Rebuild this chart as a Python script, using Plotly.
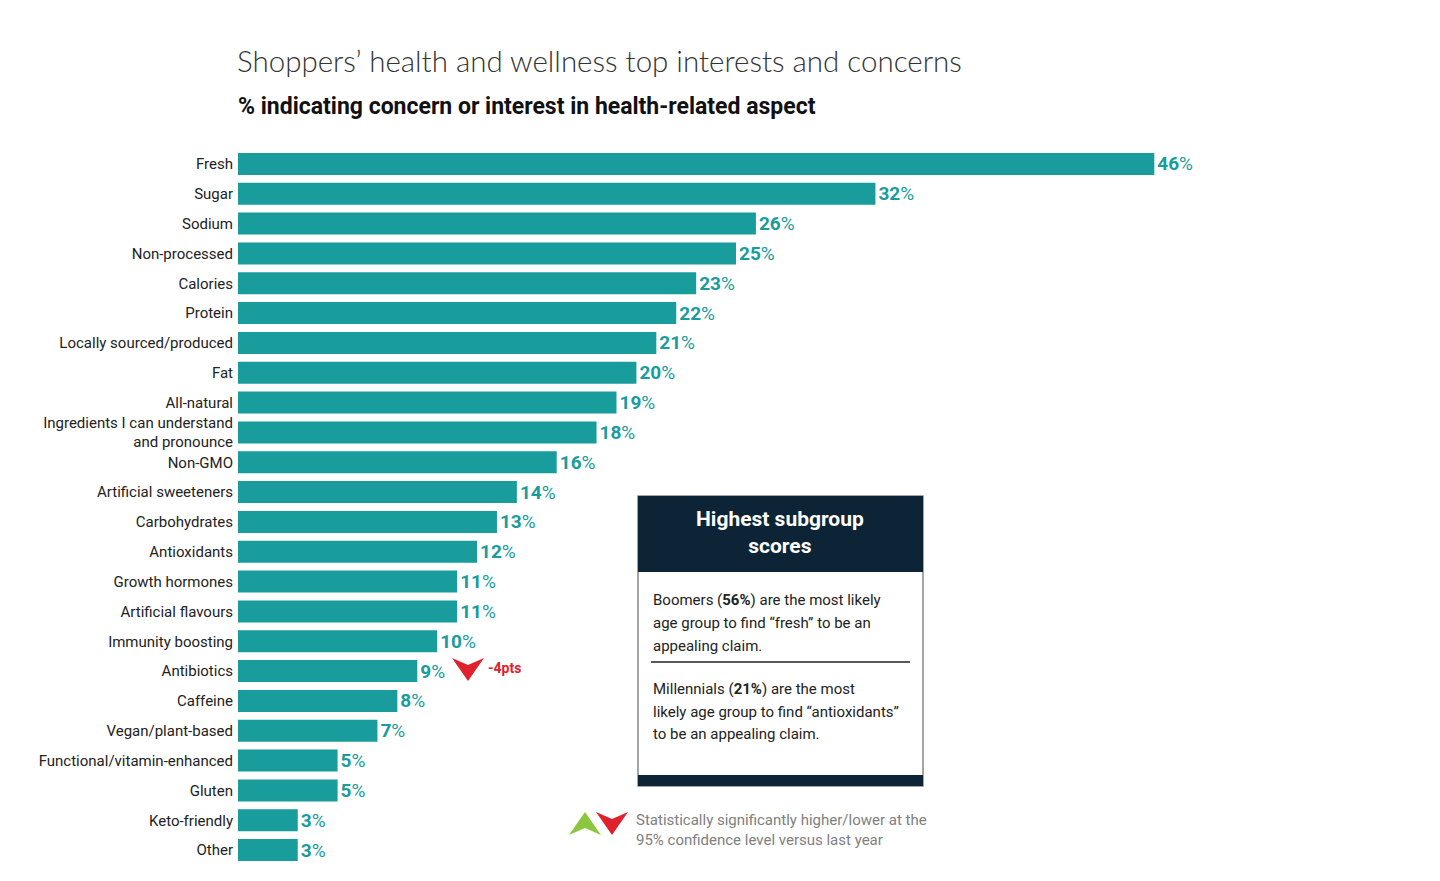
import plotly.graph_objects as go

categories = ["Fresh", "Sugar", "Sodium", "Non-processed", "Calories", "Protein",
              "Locally sourced/produced", "Fat", "All-natural",
              "Ingredients I can understand<br>and pronounce", "Non-GMO",
              "Artificial sweeteners", "Carbohydrates", "Antioxidants",
              "Growth hormones", "Artificial flavours", "Immunity boosting",
              "Antibiotics", "Caffeine", "Vegan/plant-based",
              "Functional/vitamin-enhanced", "Gluten", "Keto-friendly", "Other"]
values = [46, 32, 26, 25, 23, 22, 21, 20, 19, 18, 16, 14, 13, 12, 11, 11, 10, 9, 8, 7, 5, 5, 3, 3]

box_lines_1 = ["Boomers (<b>56%</b>) are the most likely",
               "age group to find “fresh” to be an",
               "appealing claim."]
box_lines_2 = ["Millennials (<b>21%</b>) are the most",
               "likely age group to find “antioxidants”",
               "to be an appealing claim."]

TEAL = "#189c9c"
NAVY = "#0c2436"
RED = "#e0202c"
GREEN = "#8cc63f"
BODY = "Roboto, sans-serif"

W, H = 1440, 881
ML, MR, MT, MB = 238, 206, 149, 16
PW, PH = W - ML - MR, H - MT - MB


def px(x):
    return (x - ML) / PW


def py(y):
    return (H - MB - y) / PH


fig = go.Figure()
fig.add_trace(go.Bar(
    x=values, y=categories, orientation="h",
    marker=dict(color=TEAL, line=dict(width=0)),
    texttemplate="<b>%{x}</b>%", textposition="outside", textangle=0,
    constraintext="none", cliponaxis=False,
    outsidetextfont=dict(color=TEAL, size=19, family=BODY),
    hoverinfo="skip",
))

shapes = []
annotations = []

# Title and subtitle
annotations.append(dict(xref="paper", yref="paper", x=px(235), y=py(60), xanchor="left", yanchor="middle",
                        text="Shoppers’ health and wellness top interests and concerns", showarrow=False,
                        font=dict(family="Lato, sans-serif", size=29.5, color="#333333", weight=300)))
annotations.append(dict(xref="paper", yref="paper", x=px(236), y=py(107), xanchor="left", yanchor="middle",
                        text="<b>% indicating concern or interest in health-related aspect</b>", showarrow=False,
                        font=dict(family=BODY, size=23, color="#111111")))

# Info box
bx0, bx1, by0, by1 = 638, 923, 496, 786
shapes.append(dict(type="rect", xref="paper", yref="paper", x0=px(bx0), x1=px(bx1), y0=py(by1), y1=py(by0),
                   fillcolor="white", line=dict(color="#888888", width=1.5), layer="above"))
shapes.append(dict(type="rect", xref="paper", yref="paper", x0=px(bx0), x1=px(bx1), y0=py(572), y1=py(by0),
                   fillcolor=NAVY, line=dict(width=0), layer="above"))
shapes.append(dict(type="rect", xref="paper", yref="paper", x0=px(bx0), x1=px(bx1), y0=py(by1), y1=py(775),
                   fillcolor=NAVY, line=dict(width=0), layer="above"))
shapes.append(dict(type="line", xref="paper", yref="paper", x0=px(651), x1=px(910), y0=py(662), y1=py(662),
                   line=dict(color="#222222", width=1.5), layer="above"))
annotations.append(dict(xref="paper", yref="paper", x=px(780), y=py(532), xanchor="center", yanchor="middle",
                        text="<b>Highest subgroup<br>scores</b>", showarrow=False, align="center",
                        font=dict(family=BODY, size=21, color="white")))
for i, line in enumerate(box_lines_1):
    annotations.append(dict(xref="paper", yref="paper", x=px(651), y=py(600 + 23 * i), xanchor="left",
                            yanchor="middle", text=line, showarrow=False, align="left",
                            font=dict(family=BODY, size=15, color="#222222")))
for i, line in enumerate(box_lines_2):
    annotations.append(dict(xref="paper", yref="paper", x=px(651), y=py(689 + 22.5 * i), xanchor="left",
                            yanchor="middle", text=line, showarrow=False, align="left",
                            font=dict(family=BODY, size=15, color="#222222")))


def chevron(cx, top, w, h, notch, up=False):
    if not up:
        pts = [(cx - w / 2, top), (cx, top + notch), (cx + w / 2, top), (cx, top + h)]
    else:
        bot = top + h
        pts = [(cx - w / 2, bot), (cx, bot - notch), (cx + w / 2, bot), (cx, top)]
    return "M " + " L ".join(f"{px(a):.5f},{py(b):.5f}" for a, b in pts) + " Z"


# -4pts arrow next to Antibiotics
shapes.append(dict(type="path", xref="paper", yref="paper", path=chevron(468, 658, 32, 23, 7),
                   fillcolor=RED, line=dict(width=0), layer="above"))
annotations.append(dict(xref="paper", yref="paper", x=px(486), y=py(668), xanchor="left", yanchor="middle",
                        text="<b>-4pts</b>", showarrow=False,
                        font=dict(family=BODY, size=14, color=RED)))

# Legend arrows
shapes.append(dict(type="path", xref="paper", yref="paper", path=chevron(585, 812, 32, 23, 7, up=True),
                   fillcolor=GREEN, line=dict(width=0), layer="above"))
shapes.append(dict(type="path", xref="paper", yref="paper", path=chevron(612, 812, 32, 23, 7),
                   fillcolor=RED, line=dict(width=0), layer="above"))
annotations.append(dict(xref="paper", yref="paper", x=px(634), y=py(830), xanchor="left", yanchor="middle",
                        text="Statistically significantly higher/lower at the<br>95% confidence level versus last year",
                        showarrow=False, align="left",
                        font=dict(family=BODY, size=15, color="#808080")))

fig.update_layout(
    width=W, height=H,
    margin=dict(l=ML, r=MR, t=MT, b=MB),
    paper_bgcolor="white", plot_bgcolor="white",
    showlegend=False, bargap=0.26,
    xaxis=dict(range=[0, 50], visible=False, fixedrange=True),
    yaxis=dict(categoryorder="array", categoryarray=categories, autorange="reversed",
               showgrid=False, zeroline=False, showline=False, ticks="",
               ticklabelstandoff=4,
               tickfont=dict(family=BODY, size=15, color="#222222")),
    shapes=shapes, annotations=annotations,
)

fig.write_html("out.html")
